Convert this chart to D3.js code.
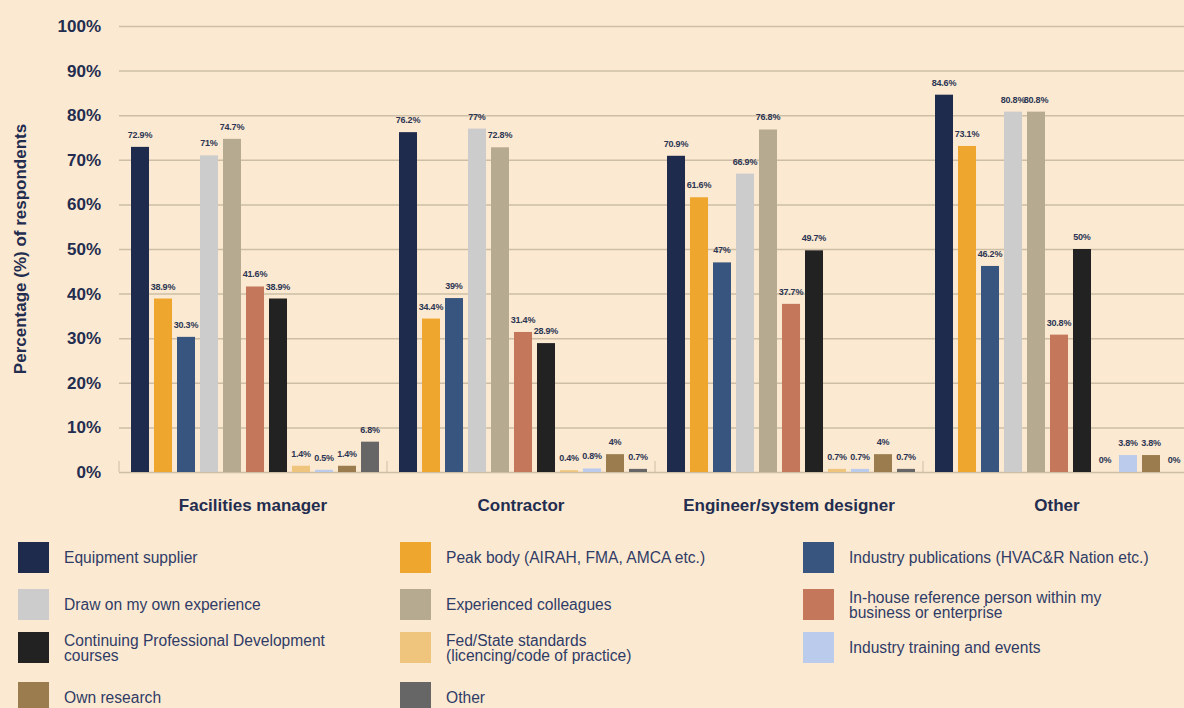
<!DOCTYPE html>
<html>
<head>
<meta charset="utf-8">
<script src="https://cdn.jsdelivr.net/npm/d3@7"></script>
<style>
body { margin: 0; background: #fce9d2; }
svg { display: block; font-family: "Liberation Sans", Arial, sans-serif; }
</style>
</head>
<body>
<svg id="grafico" width="1184" height="708"></svg>
<script>
// categorias del eje x
var grupos = ["Facilities manager", "Contractor", "Engineer/system designer", "Other"];

// series (orden de las barras dentro de cada grupo)
var fuentes = [
    "Equipment supplier",
    "Peak body (AIRAH, FMA, AMCA etc.)",
    "Industry publications (HVAC&R Nation etc.)",
    "Draw on my own experience",
    "Experienced colleagues",
    "In-house reference person within my|business or enterprise",
    "Continuing Professional Development|courses",
    "Fed/State standards|(licencing/code of practice)",
    "Industry training and events",
    "Own research",
    "Other"
];

var colores = ["#1f2b4d", "#eea62e", "#38557f", "#cccccc", "#b6aa91", "#c4775b",
    "#222222", "#efc47c", "#bacbec", "#9a7c4f", "#666666"];

var valoresFacilities = [72.9, 38.9, 30.3, 71, 74.7, 41.6, 38.9, 1.4, 0.5, 1.4, 6.8];
var valoresContractor = [76.2, 34.4, 39, 77, 72.8, 31.4, 28.9, 0.4, 0.8, 4, 0.7];
var valoresEngineer = [70.9, 61.6, 47, 66.9, 76.8, 37.7, 49.7, 0.7, 0.7, 4, 0.7];
var valoresOther = [84.6, 73.1, 46.2, 80.8, 80.8, 30.8, 50, 0, 3.8, 3.8, 0];

var ticksY = [0, 10, 20, 30, 40, 50, 60, 70, 80, 90, 100];

var valoresPorGrupo = [valoresFacilities, valoresContractor, valoresEngineer, valoresOther];

var svg = d3.select("#grafico");
var colorTexto = "#232d4f";

var x0 = d3.scaleBand().domain(grupos).range([119, 119 + 268 * 4]);
var x1 = d3.scaleBand().domain(d3.range(fuentes.length)).range([12, 260]).paddingInner(0.217);
var y = d3.scaleLinear().domain([0, 100]).range([472, 26]);

// rejilla + etiquetas del eje y
var ejeY = svg.append("g")
    .attr("transform", "translate(119,0)")
    .call(d3.axisLeft(y)
        .tickValues(ticksY)
        .tickSize(-(1184 - 119))
        .tickPadding(18)
        .tickFormat(function (d) { return d + "%"; }));

ejeY.select(".domain").remove();
ejeY.selectAll(".tick line")
    .attr("stroke", "#cdbea6")
    .attr("stroke-width", 1.5);
ejeY.selectAll(".tick text")
    .attr("fill", colorTexto)
    .style("font-size", "17px")
    .style("font-weight", "bold")
    .style("font-family", "'Liberation Sans', Arial, sans-serif");

// separadores entre grupos
svg.selectAll(".separador")
    .data(grupos)
    .enter().append("line")
    .attr("class", "separador")
    .attr("x1", function (d) { return x0(d); })
    .attr("x2", function (d) { return x0(d); })
    .attr("y1", y(0) - 11)
    .attr("y2", y(0))
    .attr("stroke", "#cdbea6")
    .attr("stroke-width", 1);

// titulo eje y
svg.append("text")
    .attr("transform", "translate(26," + y(50) + ") rotate(-90)")
    .attr("text-anchor", "middle")
    .attr("fill", colorTexto)
    .style("font-size", "17px")
    .style("font-weight", "bold")
    .text("Percentage (%) of respondents");

// barras
var grupo = svg.selectAll(".grupo")
    .data(grupos)
    .enter().append("g")
    .attr("class", "grupo")
    .attr("transform", function (d) { return "translate(" + x0(d) + ",0)"; });

grupo.selectAll("rect")
    .data(function (d, i) {
        return valoresPorGrupo[i].map(function (v, j) { return { serie: j, valor: v }; });
    })
    .enter().append("rect")
    .attr("x", function (d) { return x1(d.serie); })
    .attr("y", function (d) { return y(d.valor); })
    .attr("width", x1.bandwidth())
    .attr("height", function (d) { return y(0) - y(d.valor); })
    .style("fill", function (d) { return colores[d.serie]; });

grupo.selectAll(".etiqueta")
    .data(function (d, i) {
        return valoresPorGrupo[i].map(function (v, j) { return { serie: j, valor: v }; });
    })
    .enter().append("text")
    .attr("class", "etiqueta")
    .attr("x", function (d) { return x1(d.serie) + x1.bandwidth() / 2; })
    .attr("y", function (d) { return y(d.valor) - 9; })
    .attr("text-anchor", "middle")
    .attr("fill", "#2b3552")
    .style("font-size", "9px")
    .style("font-weight", "bold")
    .style("letter-spacing", "-0.25px")
    .text(function (d) { return d.valor + "%"; });

// nombres de grupo
svg.selectAll(".nombreGrupo")
    .data(grupos)
    .enter().append("text")
    .attr("class", "nombreGrupo")
    .attr("x", function (d) { return x0(d) + x0.bandwidth() / 2; })
    .attr("y", 511)
    .attr("text-anchor", "middle")
    .attr("fill", colorTexto)
    .style("font-size", "17px")
    .style("font-weight", "bold")
    .text(function (d) { return d; });

// leyenda: 3 columnas
var columnasX = [18, 400, 803];
var filasY = [542, 589, 632, 682];

var leyenda = svg.selectAll(".leyenda")
    .data(fuentes)
    .enter().append("g")
    .attr("class", "leyenda")
    .attr("transform", function (d, i) {
        return "translate(" + columnasX[i % 3] + "," + filasY[Math.floor(i / 3)] + ")";
    });

leyenda.append("rect")
    .attr("width", 31)
    .attr("height", 31)
    .style("fill", function (d, i) { return colores[i]; });

leyenda.append("text")
    .attr("fill", "#2f3c66")
    .style("font-size", "15.6px")
    .each(function (d) {
        var lineas = d.split("|");
        var t = d3.select(this);
        var inicio = 16 - (lineas.length - 1) * 7.5 + 5;
        lineas.forEach(function (l, k) {
            t.append("tspan")
                .attr("x", 46)
                .attr("y", inicio + k * 15.5)
                .text(l);
        });
    });
</script>
</body>
</html>
